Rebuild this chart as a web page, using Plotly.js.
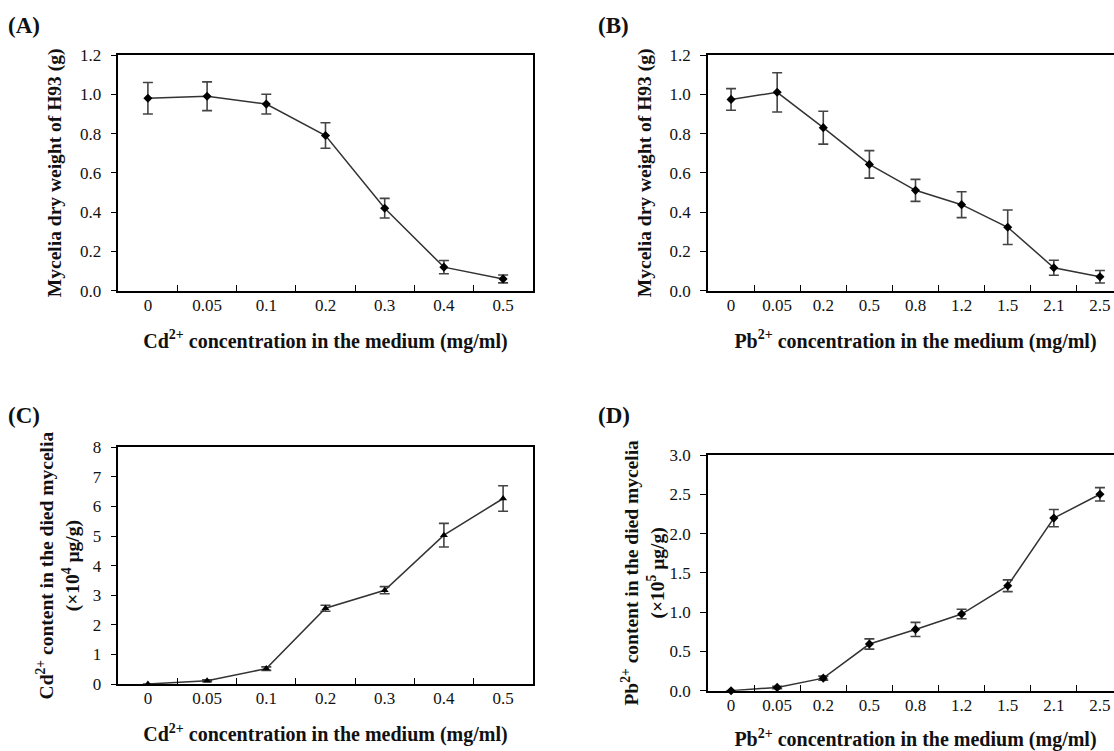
<!DOCTYPE html>
<html>
<head>
<meta charset="utf-8">
<script src="https://cdn.plot.ly/plotly-3.0.1.min.js"></script>
<style>
html,body{margin:0;padding:0;overflow:hidden;background:#fff;}
#chart{width:1125px;height:751px;}
</style>
</head>
<body>
<div id="chart"></div>
<script>
// ---- data ----
var catCd = ['0','0.05','0.1','0.2','0.3','0.4','0.5'];
var catPb = ['0','0.05','0.2','0.5','0.8','1.2','1.5','2.1','2.5'];

var dryCd    = [0.98, 0.99, 0.95, 0.79, 0.42, 0.12, 0.06];
var dryCdErr = [0.08, 0.073, 0.05, 0.065, 0.05, 0.034, 0.02];

var dryPb    = [0.974, 1.01, 0.83, 0.643, 0.511, 0.438, 0.323, 0.117, 0.071];
var dryPbErr = [0.055, 0.10, 0.084, 0.07, 0.056, 0.066, 0.088, 0.038, 0.032];

var contCd    = [0.0, 0.11, 0.52, 2.56, 3.17, 5.03, 6.27];
var contCdErr = [0.0, 0.03, 0.06, 0.10, 0.12, 0.40, 0.43];

var contPb    = [0.0, 0.042, 0.16, 0.594, 0.78, 0.976, 1.336, 2.197, 2.50];
var contPbErr = [0.0, 0.015, 0.025, 0.065, 0.09, 0.06, 0.075, 0.11, 0.085];

var titleDry = 'Mycelia dry weight of H93 (g)';
var titleCdX = 'Cd<sup>2+</sup> concentration in the medium (mg/ml)';
var titlePbX = 'Pb<sup>2+</sup> concentration in the medium (mg/ml)';
var titleCdY = 'Cd<sup>2+</sup> content in the died mycelia<br>(\u00d710<sup>4</sup> \u03bcg/g)';
var titlePbY = 'Pb<sup>2+</sup> content in the died mycelia<br>(\u00d710<sup>5</sup> \u03bcg/g)';
var panelLabels = ['(A)','(B)','(C)','(D)'];

// ---- styling ----
var W = 1125, H = 751;
var FONT = "'Liberation Serif', 'Times New Roman', Times, serif";
var TICK = 17, TITLEY = 19.5, TITLEX = 20;
function px(x){ return x / W; }
function py(top, bottom){ return [(H - bottom) / H, (H - top) / H]; }

function trace(cats, vals, errs, xa, ya, sym){
  return {
    x: cats, y: vals, xaxis: xa, yaxis: ya,
    type: 'scatter', mode: 'lines+markers', showlegend: false, cliponaxis: false,
    line: {color: '#333', width: 1.5},
    marker: {symbol: sym, size: 7, color: '#000'},
    error_y: {type: 'data', array: errs, visible: true, color: '#444', thickness: 1.6, width: 5}
  };
}

function xAxis(domain, cats, anchor, title){
  return {
    type: 'category', domain: domain, anchor: anchor,
    categoryorder: 'array', categoryarray: cats,
    range: [-0.5, cats.length - 0.5],
    tickson: 'boundaries', ticks: 'inside', ticklen: 6, tickwidth: 1.2, tickcolor: '#000',
    showline: true, mirror: true, linecolor: '#000', linewidth: 1.5,
    showgrid: false, zeroline: false, fixedrange: true,
    ticklabelstandoff: -2,
    tickfont: {family: FONT, size: TICK, color: '#111'},
    title: {text: title, standoff: 20, font: {family: FONT, size: TITLEX, color: '#111', weight: 'bold'}}
  };
}

function yAxis(domain, anchor, range, dtick, fmt, title, standoff){
  return {
    domain: domain, anchor: anchor, range: range, dtick: dtick, tick0: 0, tickformat: fmt,
    ticks: 'outside', ticklen: 6, tickwidth: 1.2, tickcolor: '#000',
    showline: true, mirror: true, linecolor: '#000', linewidth: 1.5,
    showgrid: false, zeroline: false, fixedrange: true,
    ticklabelstandoff: 6,
    tickfont: {family: FONT, size: TICK, color: '#111'},
    title: {text: title, standoff: standoff, font: {family: FONT, size: TITLEY, color: '#111', weight: 'bold'}}
  };
}

var data = [
  trace(catCd, dryCd, dryCdErr, 'x', 'y', 'diamond'),
  trace(catPb, dryPb, dryPbErr, 'x2', 'y2', 'diamond'),
  trace(catCd, contCd, contCdErr, 'x3', 'y3', 'triangle-up'),
  trace(catPb, contPb, contPbErr, 'x4', 'y4', 'diamond')
];

var dA = [px(118.3), px(532.7)], dB = [px(708), px(1123)];
var rowTop = py(55, 290.7), rowC = py(447.3, 684), rowD = py(455, 690.7);

var layout = {
  width: W, height: H,
  margin: {l: 0, r: 0, t: 0, b: 0},
  paper_bgcolor: '#fff', plot_bgcolor: '#fff',
  font: {family: FONT, color: '#111'},
  xaxis:  xAxis(dA, catCd, 'y',  titleCdX),
  xaxis2: xAxis(dB, catPb, 'y2', titlePbX),
  xaxis3: xAxis(dA, catCd, 'y3', titleCdX),
  xaxis4: xAxis(dB, catPb, 'y4', titlePbX),
  yaxis:  yAxis(rowTop, 'x',  [0, 1.2], 0.2, '.1f', titleDry, 13),
  yaxis2: yAxis(rowTop, 'x2', [0, 1.2], 0.2, '.1f', titleDry, 13),
  yaxis3: yAxis(rowC,   'x3', [0, 8],   1,   'd',   titleCdY, 8),
  yaxis4: yAxis(rowD,   'x4', [0, 3],   0.5, '.1f', titlePbY, 0),
  annotations: [
    {text: panelLabels[0], x: px(6),   y: 1 - 26/H,  xanchor: 'left'},
    {text: panelLabels[1], x: px(596), y: 1 - 26/H,  xanchor: 'left'},
    {text: panelLabels[2], x: px(6),   y: 1 - 416/H, xanchor: 'left'},
    {text: panelLabels[3], x: px(596), y: 1 - 416/H, xanchor: 'left'}
  ].map(function(a){
    a.xref = 'paper'; a.yref = 'paper'; a.yanchor = 'middle'; a.showarrow = false;
    a.font = {family: FONT, size: 23, color: '#111', weight: 'bold'};
    return a;
  })
};

Plotly.newPlot('chart', data, layout, {displayModeBar: false});
</script>
</body>
</html>
